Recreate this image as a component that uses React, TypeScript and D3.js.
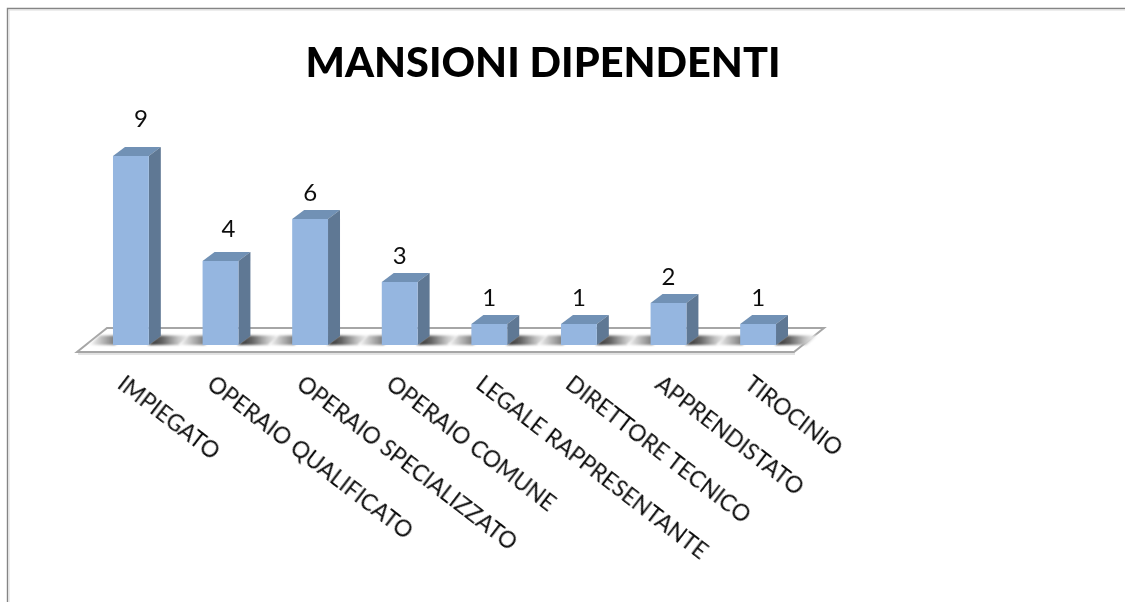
import React from "react";
import * as d3 from "d3";

const categories = ["IMPIEGATO","OPERAIO QUALIFICATO","OPERAIO SPECIALIZZATO","OPERAIO COMUNE","LEGALE RAPPRESENTANTE","DIRETTORE TECNICO","APPRENDISTATO","TIROCINIO"];
const values = [9,4,6,3,1,1,2,1];
const titleText = "MANSIONI DIPENDENTI";

const font = "Lato, Carlito, 'Open Sans', sans-serif";
const DX = 12, DY = -9;
const x = d3.scaleBand<string>().domain(categories).range([86.1, 802.9]).paddingInner(0.6).paddingOuter(0.3);
const y = d3.scaleLinear().domain([0, 9]).range([345, 156]);
const poly = (pts: [number, number][]) => (d3.line()(pts) as string) + "Z";
// Nudges of the value labels relative to the bar: the first two sit higher and further right.
const lift = (i: number) => (i === 0 ? 20 : i === 1 ? 15 : 9.5);
const shift = (i: number) => (i === 0 ? 10 : i === 1 ? 8 : 0);

export default function App() {
  const bw = x.bandwidth();
  return (
    <svg width={1125} height={602} style={{ position: "absolute", left: 0, top: 0, display: "block" }}>
      <defs>
        <linearGradient id="shR" x1="0" x2="1" y1="0" y2="0">
          <stop offset="0" stopColor="#2a2a2a" />
          <stop offset="0.35" stopColor="#666" />
          <stop offset="0.7" stopColor="#c4c4c4" />
          <stop offset="1" stopColor="#fff" />
        </linearGradient>
        <linearGradient id="shL" x1="1" x2="0" y1="0" y2="0">
          <stop offset="0" stopColor="#444" />
          <stop offset="0.45" stopColor="#999" />
          <stop offset="1" stopColor="#fff" />
        </linearGradient>
        <filter id="soft" x="-20%" y="-40%" width="140%" height="180%">
          <feGaussianBlur stdDeviation="0.8" />
        </filter>
        <filter id="blurText" x="-5%" y="-5%" width="110%" height="110%">
          <feGaussianBlur stdDeviation="0.35" />
        </filter>
      </defs>
      <rect width={1125} height={602} fill="#fff" />
      <path d="M7.5,602V8.5H1125" fill="none" stroke="#858585" strokeWidth={1.4} />
      <path d="M9,602V10H1125" fill="none" stroke="#dcdcdc" strokeWidth={1} />

      <text x={543} y={76.5} textAnchor="middle" fontFamily={font} fontWeight={900} fontSize={42.5} textLength={475} lengthAdjust="spacingAndGlyphs" fill="#000" filter="url(#blurText)">{titleText}</text>

      {/* floor */}
      <path d={poly([[77, 352], [794, 352], [824, 328], [107, 328]])} fill="#fff" stroke="#a6a6a6" strokeWidth={2} />
      <path d={poly([[78, 354], [795, 354]])} fill="none" stroke="#d9d9d9" strokeWidth={1} />

      {/* floor shadows */}
      {categories.map((c) => {
        const x0 = x(c) as number;
        return (
          <g key={"s" + c} filter="url(#soft)">
            <path d={poly([[x0 - 24, 345], [x0 + 2, 345], [x0 + 12, 335.5], [x0 - 13, 335.5]])} fill="url(#shL)" />
            <path d={poly([[x0 + bw - 1, 345], [x0 + bw + 30, 345], [x0 + bw + 42, 335.5], [x0 + bw + 11, 335.5]])} fill="url(#shR)" />
          </g>
        );
      })}

      {/* bars */}
      {categories.map((c, i) => {
        const x0 = x(c) as number;
        const x1 = x0 + bw;
        const yt = y(values[i]);
        const yb = y(0);
        return (
          <g key={c}>
            <path d={poly([[x0, yt], [x0 + DX, yt + DY], [x1 + DX, yt + DY], [x1, yt]])} fill="#7191b5" />
            <path d={poly([[x1, yt], [x1 + DX, yt + DY], [x1 + DX, yb + DY], [x1, yb]])} fill="#5f7894" />
            <rect x={x0} y={yt} width={bw} height={yb - yt} fill="#95b6e0" />
            <text x={x0 + bw / 2 + shift(i)} y={yt + DY - lift(i)} textAnchor="middle" fontFamily={font} fontSize={24} fill="#111" filter="url(#blurText)">{values[i]}</text>
          </g>
        );
      })}

      {/* category labels */}
      {categories.map((c) => {
        const x0 = x(c) as number;
        return (
          <text key={"l" + c} transform={`translate(${x0 + 3},${387}) rotate(37.5)`} fontFamily={font} fontSize={22.7} fill="#111" filter="url(#blurText)">{c}</text>
        );
      })}
    </svg>
  );
}
